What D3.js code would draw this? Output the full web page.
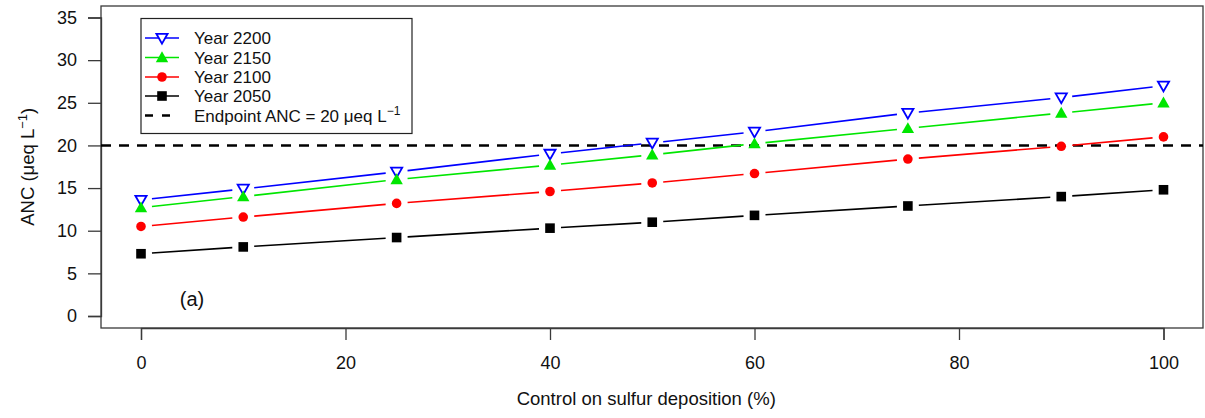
<!DOCTYPE html>
<html>
<head>
<meta charset="utf-8">
<script src="https://cdn.jsdelivr.net/npm/d3@7"></script>
<style>
  html, body { margin: 0; padding: 0; background: #fff; }
  svg { display: block; font-family: "Liberation Sans", Arial, sans-serif; }
</style>
</head>
<body>
<svg id="chart" width="1205" height="418"></svg>
<script>
// Sulfur deposition control levels (%)
const control = [0, 10, 25, 40, 50, 60, 75, 90, 100];

// Simulated ANC (μeq/L) by target year
const year2200 = [13.6, 14.9, 16.9, 19.0, 20.3, 21.6, 23.8, 25.6, 27.0];
const year2150 = [12.7, 14.0, 16.0, 17.7, 18.9, 20.2, 22.0, 23.8, 25.0];
const year2100 = [10.5, 11.6, 13.2, 14.6, 15.6, 16.7, 18.4, 19.9, 21.0];
const year2050 = [7.3, 8.1, 9.2, 10.3, 11.0, 11.8, 12.9, 14.0, 14.8];

const endpoint = 20;
const xTicks = [0, 20, 40, 60, 80, 100];
const yTicks = [0, 5, 10, 15, 20, 25, 30, 35];

const series = [
  { name: "Year 2200", values: year2200, color: "#0000ff", shape: "tri-down" },
  { name: "Year 2150", values: year2150, color: "#00e600", shape: "tri-up" },
  { name: "Year 2100", values: year2100, color: "#ff0000", shape: "circle" },
  { name: "Year 2050", values: year2050, color: "#000000", shape: "square" }
];

const svg = d3.select("#chart");
const box = { left: 101, right: 1203, top: 6, bottom: 328 };

const x = d3.scaleLinear().domain([0, 100]).range([141, 1163.5]);
const y = d3.scaleLinear().domain([0, 35]).range([316, 17.5]);

// plot frame
svg.append("rect")
  .attr("x", box.left).attr("y", box.top)
  .attr("width", box.right - box.left).attr("height", box.bottom - box.top)
  .attr("fill", "none").attr("stroke", "#3a3a3a").attr("stroke-width", 1.3);

// axes
const yAxis = svg.append("g")
  .attr("transform", `translate(${box.left},0)`)
  .call(d3.axisLeft(y).tickValues(yTicks).tickSize(13).tickPadding(11));
const xAxis = svg.append("g")
  .attr("transform", `translate(0,${box.bottom})`)
  .call(d3.axisBottom(x).tickValues(xTicks).tickSize(12).tickPadding(16));
[yAxis, xAxis].forEach(g => {
  g.select(".domain").attr("stroke", "#3a3a3a").attr("stroke-width", 1.3);
  g.selectAll(".tick line").attr("stroke", "#3a3a3a").attr("stroke-width", 1.3);
  g.selectAll(".tick text")
    .attr("fill", "#111")
    .style("font-size", "18px")
    .style("font-family", "'Liberation Sans', Arial, sans-serif");
});

// axis titles
svg.append("text")
  .attr("x", (x(0) + x(100)) / 2 - 6).attr("y", 405)
  .attr("text-anchor", "middle").attr("font-size", 18.5).attr("fill", "#111")
  .text("Control on sulfur deposition (%)");

const yTitle = svg.append("text")
  .attr("transform", `translate(34,${y(17.5)}) rotate(-90)`)
  .attr("text-anchor", "middle").attr("font-size", 18.5).attr("fill", "#111");
yTitle.append("tspan").text("ANC (μeq L");
yTitle.append("tspan").attr("dy", -7).attr("font-size", 13).text("−1");
yTitle.append("tspan").attr("dy", 7).text(")");

// endpoint reference line
svg.append("line")
  .attr("x1", box.left).attr("x2", box.right)
  .attr("y1", y(endpoint)).attr("y2", y(endpoint))
  .attr("stroke", "#000").attr("stroke-width", 2.6)
  .attr("stroke-dasharray", "10,8");

// marker drawing
function marker(g, shape, color, cx, cy) {
  if (shape === "circle") {
    g.append("circle").attr("cx", cx).attr("cy", cy).attr("r", 4.8).attr("fill", color);
  } else if (shape === "square") {
    g.append("rect").attr("x", cx - 4.8).attr("y", cy - 4.8)
      .attr("width", 9.6).attr("height", 9.6).attr("fill", color);
  } else if (shape === "tri-up") {
    const s = 6.2;
    g.append("path")
      .attr("d", `M${cx},${cy - s * 1.0}L${cx + s},${cy + s * 0.75}L${cx - s},${cy + s * 0.75}Z`)
      .attr("fill", color);
  } else if (shape === "tri-down") {
    const s = 5.6;
    g.append("path")
      .attr("d", `M${cx},${cy + s * 1.0}L${cx + s},${cy - s * 0.75}L${cx - s},${cy - s * 0.75}Z`)
      .attr("fill", "#fff").attr("stroke", color).attr("stroke-width", 1.8);
  }
}

// connecting segments with gaps around each point
const gap = 11;
series.forEach(s => {
  const g = svg.append("g");
  const pts = control.map((c, i) => [x(c), y(s.values[i])]);
  for (let i = 0; i < pts.length - 1; i++) {
    const [x1, y1] = pts[i], [x2, y2] = pts[i + 1];
    const len = Math.hypot(x2 - x1, y2 - y1);
    const ux = (x2 - x1) / len, uy = (y2 - y1) / len;
    g.append("line")
      .attr("x1", x1 + ux * gap).attr("y1", y1 + uy * gap)
      .attr("x2", x2 - ux * gap).attr("y2", y2 - uy * gap)
      .attr("stroke", s.color).attr("stroke-width", 1.6);
  }
  pts.forEach(([cx, cy]) => marker(g, s.shape, s.color, cx, cy));
});

// legend
const lg = svg.append("g");
lg.append("rect")
  .attr("x", 141).attr("y", 18.5).attr("width", 271).attr("height", 115)
  .attr("fill", "#fff").attr("stroke", "#222").attr("stroke-width", 1.2);
const rowY = [38, 57.5, 77, 96];
series.forEach((s, i) => {
  const ry = rowY[i];
  lg.append("line").attr("x1", 145).attr("x2", 179).attr("y1", ry).attr("y2", ry)
    .attr("stroke", s.color).attr("stroke-width", 1.6);
  marker(lg, s.shape, s.color, 162, ry);
  lg.append("text").attr("x", 194).attr("y", ry + 6)
    .attr("font-size", 17).attr("fill", "#111").text(s.name);
});
lg.append("line").attr("x1", 145).attr("x2", 179).attr("y1", 115.5).attr("y2", 115.5)
  .attr("stroke", "#000").attr("stroke-width", 2.6).attr("stroke-dasharray", "8,9");
const et = lg.append("text").attr("x", 194).attr("y", 121.5).attr("font-size", 17).attr("fill", "#111");
et.append("tspan").text("Endpoint ANC = 20 μeq L");
et.append("tspan").attr("dy", -7).attr("font-size", 12).text("−1");

// panel tag
svg.append("text").attr("x", 192).attr("y", 306)
  .attr("text-anchor", "middle").attr("font-size", 20).attr("fill", "#111").text("(a)");
</script>
</body>
</html>
